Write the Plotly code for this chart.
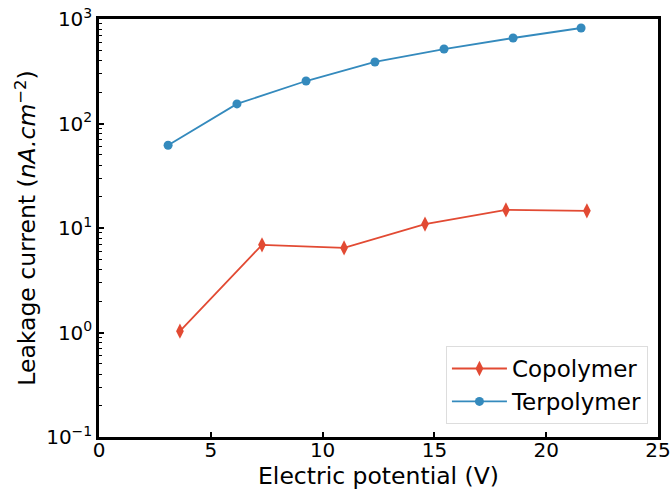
import plotly.graph_objects as go

copo_x = [3.62, 7.29, 10.96, 14.58, 18.2, 21.82]
copo_y = [1.03, 6.9, 6.45, 10.9, 14.9, 14.6]
ter_x = [3.09, 6.17, 9.26, 12.34, 15.43, 18.52, 21.56]
ter_y = [62, 154, 255, 388, 516, 658, 820]

x_ticks = [0, 5, 10, 15, 20, 25]
y_ticks = [0.1, 1, 10, 100, 1000]
y_ticktext = ["10<sup>−1</sup>", "10<sup>0</sup>", "10<sup>1</sup>", "10<sup>2</sup>", "10<sup>3</sup>"]

minor_vals = [m * 10 ** e for e in range(-1, 3) for m in range(2, 10)]

fig = go.Figure()
fig.add_trace(go.Scatter(x=copo_x, y=copo_y, mode="lines+markers", name="Copolymer",
                         legendgroup="a",
                         line=dict(color="#E24A33", width=1.8),
                         marker=dict(symbol="diamond-tall", size=11, color="#E24A33")))
fig.add_trace(go.Scatter(x=ter_x, y=ter_y, mode="lines+markers", name="Terpolymer",
                         legendgroup="b",
                         line=dict(color="#348ABD", width=1.8),
                         marker=dict(symbol="circle", size=9, color="#348ABD")))

fig.update_layout(
    width=670, height=491,
    margin=dict(l=99, r=12, t=19, b=54),
    paper_bgcolor="white", plot_bgcolor="white",
    font=dict(family="DejaVu Sans", size=20, color="black"),
    legend=dict(x=0.982, y=0.031, xanchor="right", yanchor="bottom",
                bordercolor="#dddddd", borderwidth=1, bgcolor="rgba(255,255,255,0.8)",
                font=dict(size=23), tracegroupgap=0, itemwidth=55),
    xaxis=dict(range=[0, 25], tickvals=x_ticks, ticks="inside", ticklen=5, tickwidth=1.5,
               tickcolor="black", showline=True, linecolor="black", linewidth=2.5,
               mirror=True, showgrid=False, zeroline=False, automargin=False,
               ticklabeloverflow="allow", ticklabelstandoff=-7,
               title=dict(text="Electric potential (V)", font=dict(size=23.5), standoff=2)),
    yaxis=dict(type="log", range=[-1, 3], tickvals=y_ticks, ticktext=y_ticktext,
               ticks="inside", ticklen=5, tickwidth=1.5, tickcolor="black",
               showline=True, linecolor="black", linewidth=2.5, mirror=True,
               showgrid=False, zeroline=False, automargin=False,
               ticklabeloverflow="allow",
               minor=dict(tickmode="array", tickvals=minor_vals, ticks="inside",
                          ticklen=3, tickwidth=1.2, tickcolor="black", showgrid=False),
               title=dict(text="Leakage current (<i>nA.cm</i><sup>−2</sup>)",
                          font=dict(size=23.5), standoff=4)),
)

fig.write_html("out.html")
